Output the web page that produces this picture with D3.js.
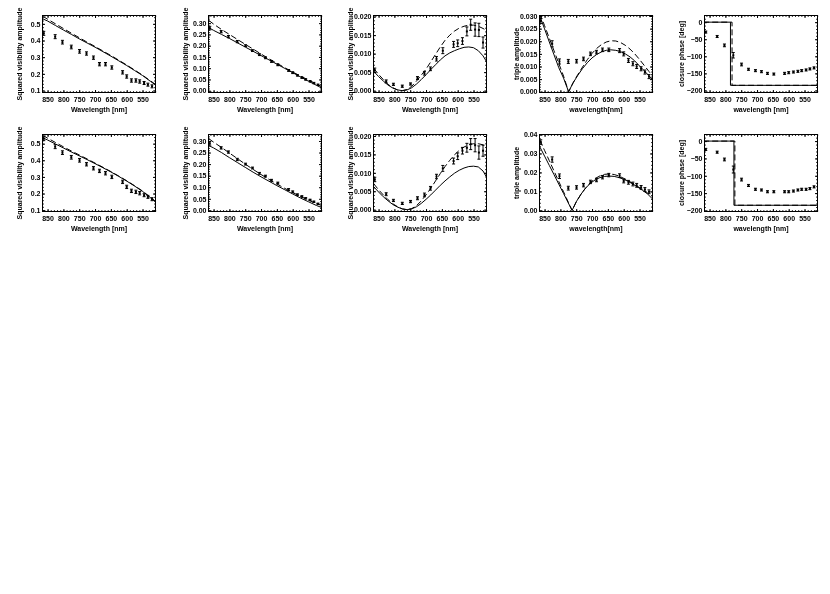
<!DOCTYPE html>
<html>
<head>
<meta charset="utf-8">
<script src="https://d3js.org/d3.v7.min.js"></script>
<style>
body{margin:0;background:#fff;}
svg{will-change:transform;}
svg text{font-family:"Liberation Sans",Arial,sans-serif;font-size:7px;font-weight:bold;fill:#000;}
</style>
</head>
<body>
<div id="my-draw"></div>
<script>

// spectral channels of the observations (nm)
var chanWl=[862,826,803,775,749,727,705,686,667,647,613,600,585,571,559,545,533,520];

// wavelength grids of the model curves
var gridA=[865,850,825,800,775,750,725,700,675,650,625,600,575,550,525,510];
var gridP3=[865,850,835,820,805,790,775,760,745,730,715,700,685,670,655,640,625,610,595,580,565,550,535,520,510];
var gridP4a=[865,850,835,820,805,790,774,760,745,730,715,700,685,670,655,640,625,610,595,580,565,550,535,520,510];
var gridP4b=[865,850,835,820,805,790,775,763,750,735,720,705,690,675,660,645,630,615,600,585,570,555,540,525,510];

// closure phase model steps
var stepWlSolid1=[870,784,784,505], stepWlDash1=[870,779,779,505];
var stepWlSolid2=[870,773,773,505], stepWlDash2=[870,770,770,505];
var stepPhase=[0,0,-185,-185];

// axis ticks
var xTickVals=[850,800,750,700,650,600,550];
var yTicksP1=[0.1,0.2,0.3,0.4,0.5], yLabelsP1=["0.1","0.2","0.3","0.4","0.5"];
var yTicksP2=[0,0.05,0.10,0.15,0.20,0.25,0.30], yLabelsP2=["0.00","0.05","0.10","0.15","0.20","0.25","0.30"];
var yTicksP3=[0,0.005,0.010,0.015,0.020], yLabelsP3=["0.000","0.005","0.010","0.015","0.020"];
var yTicksP4a=[0,0.005,0.010,0.015,0.020,0.025,0.030], yLabelsP4a=["0.000","0.005","0.010","0.015","0.020","0.025","0.030"];
var yTicksP4b=[0,0.01,0.02,0.03,0.04], yLabelsP4b=["0.00","0.01","0.02","0.03","0.04"];
var yTicksP5=[-200,-150,-100,-50,0], yLabelsP5=["\u2212200","\u2212150","\u2212100","\u221250","0"];

// row 1 -- squared visibility, baseline 1
var v2aSolid1=[0.53,0.517,0.49,0.463,0.437,0.41,0.385,0.36,0.333,0.306,0.278,0.25,0.22,0.19,0.155,0.135];
var v2aDash1=[0.545,0.528,0.5,0.472,0.444,0.417,0.39,0.364,0.337,0.31,0.282,0.253,0.223,0.192,0.158,0.138];
var v2aObs1=[0.443,0.423,0.39,0.361,0.335,0.322,0.297,0.258,0.258,0.238,0.209,0.184,0.16,0.16,0.154,0.145,0.135,0.125];
var v2aErr1=[0.012,0.012,0.011,0.011,0.011,0.01,0.01,0.01,0.01,0.01,0.01,0.01,0.01,0.01,0.01,0.009,0.009,0.009];
// row 1 -- squared visibility, baseline 2
var v2bSolid1=[0.28,0.268,0.25,0.232,0.213,0.194,0.175,0.156,0.137,0.118,0.099,0.08,0.061,0.042,0.024,0.013];
var v2bDash1=[0.312,0.296,0.272,0.25,0.228,0.206,0.185,0.163,0.142,0.122,0.102,0.083,0.065,0.047,0.03,0.02];
var v2bObs1=[0.278,0.262,0.24,0.218,0.2,0.178,0.16,0.146,0.13,0.115,0.09,0.08,0.068,0.058,0.05,0.042,0.034,0.026];
var v2bErr1=[0.008,0.005,0.005,0.005,0.004,0.004,0.004,0.004,0.004,0.004,0.004,0.004,0.003,0.003,0.003,0.003,0.003,0.003];
// row 1 -- squared visibility, baseline 3
var v2cSolid1=[0.0052,0.0038,0.0026,0.0015,0.0007,0.0002,0.0,0.0002,0.0008,0.0018,0.003,0.0043,0.0057,0.007,0.0083,0.0094,0.0102,0.0108,0.0113,0.0117,0.0118,0.0116,0.0108,0.0094,0.008];
var v2cDash1=[0.006,0.0044,0.003,0.0017,0.0008,0.0002,0.0,0.0003,0.0012,0.0026,0.0042,0.0058,0.0078,0.0098,0.0118,0.0136,0.015,0.0161,0.0169,0.0174,0.0177,0.0177,0.0174,0.0168,0.0163];
var v2cObs1=[0.0055,0.0025,0.0017,0.0012,0.0018,0.0034,0.0047,0.0059,0.0086,0.0108,0.0125,0.0128,0.0134,0.016,0.0178,0.0165,0.0164,0.013];
var v2cErr1=[0.0006,0.0004,0.0003,0.0003,0.0003,0.0004,0.0005,0.0005,0.0006,0.0008,0.0008,0.0009,0.0009,0.0012,0.0015,0.0018,0.0018,0.0015];
// row 1 -- triple amplitude
var t3Solid1=[0.03,0.0249,0.0197,0.0146,0.0095,0.0054,0.0,0.0035,0.0065,0.0092,0.0115,0.0134,0.0148,0.0158,0.0164,0.0166,0.0164,0.0159,0.015,0.0138,0.0122,0.0102,0.0083,0.0063,0.005];
var t3Dash1=[0.031,0.0262,0.0212,0.0162,0.0112,0.0062,0.0,0.0035,0.0068,0.0098,0.0127,0.0152,0.0172,0.0187,0.0197,0.0202,0.0201,0.0195,0.0184,0.0169,0.015,0.0128,0.0104,0.008,0.0064];
var t3Obs1=[0.028,0.019,0.012,0.012,0.0121,0.013,0.015,0.0157,0.0166,0.0166,0.0163,0.015,0.0124,0.0111,0.01,0.0091,0.0078,0.006];
var t3Err1=[0.001,0.0012,0.001,0.0008,0.0007,0.0007,0.0007,0.0007,0.0007,0.0007,0.0008,0.0008,0.0008,0.0008,0.0008,0.0008,0.0008,0.0008];
// row 1 -- closure phase
var cpObs1=[-29,-42,-68,-97,-124,-138,-142,-145,-150,-152,-150,-148,-146,-144,-142,-140,-137,-134];
var cpErr1=[3,3,4,8,4,3,3,3,3,3,3,3,3,3,3,3,3,3];

// row 2 -- squared visibility, baseline 1
var v2aSolid2=[0.535,0.522,0.498,0.474,0.45,0.427,0.404,0.38,0.355,0.33,0.303,0.275,0.245,0.213,0.175,0.15];
var v2aDash2=[0.55,0.533,0.507,0.481,0.456,0.432,0.408,0.383,0.358,0.332,0.305,0.277,0.247,0.215,0.178,0.155];
var v2aObs2=[0.53,0.482,0.446,0.418,0.4,0.376,0.352,0.336,0.322,0.3,0.27,0.24,0.216,0.21,0.202,0.19,0.18,0.166];
var v2aErr2=[0.012,0.012,0.011,0.011,0.011,0.01,0.01,0.01,0.01,0.01,0.01,0.01,0.01,0.01,0.01,0.009,0.009,0.009];
// row 2 -- squared visibility, baseline 2
var v2bSolid2=[0.28,0.27,0.25,0.228,0.207,0.186,0.165,0.145,0.126,0.107,0.089,0.071,0.053,0.037,0.021,0.013];
var v2bDash2=[0.31,0.295,0.272,0.248,0.224,0.2,0.177,0.155,0.134,0.114,0.095,0.077,0.06,0.044,0.029,0.022];
var v2bObs2=[0.29,0.27,0.252,0.22,0.2,0.183,0.16,0.148,0.13,0.118,0.09,0.08,0.068,0.06,0.052,0.045,0.037,0.028];
var v2bErr2=[0.008,0.005,0.005,0.005,0.004,0.004,0.004,0.004,0.004,0.004,0.004,0.004,0.003,0.003,0.003,0.003,0.003,0.003];
// row 2 -- squared visibility, baseline 3
var v2cSolid2=[0.0062,0.0048,0.0035,0.0024,0.0014,0.0007,0.0002,0.0,0.0002,0.0008,0.0017,0.0028,0.004,0.0053,0.0066,0.0078,0.0089,0.0099,0.0107,0.0113,0.0117,0.0118,0.0116,0.0105,0.009];
var v2cDash2=[0.007,0.0054,0.004,0.0027,0.0016,0.0008,0.0002,0.0,0.0003,0.0011,0.0024,0.004,0.0058,0.0078,0.0098,0.0117,0.0134,0.0149,0.0161,0.017,0.0176,0.0179,0.0179,0.0176,0.0172];
var v2cObs2=[0.0082,0.0042,0.0025,0.0017,0.0022,0.0031,0.004,0.0058,0.009,0.0112,0.0132,0.0145,0.016,0.0168,0.0178,0.0175,0.0155,0.016];
var v2cErr2=[0.0006,0.0004,0.0003,0.0003,0.0003,0.0004,0.0005,0.0005,0.0006,0.0008,0.0008,0.0009,0.0009,0.0012,0.0015,0.0018,0.0018,0.0015];
// row 2 -- triple amplitude
var t3Solid2=[0.0335,0.0286,0.0237,0.0188,0.0138,0.0089,0.0039,0.0,0.0045,0.0085,0.0118,0.0143,0.0161,0.0173,0.0179,0.0181,0.0179,0.0173,0.0164,0.0152,0.0138,0.0122,0.0105,0.0087,0.0062];
var t3Dash2=[0.037,0.0316,0.0262,0.0207,0.0152,0.0098,0.0043,0.0,0.0044,0.0085,0.0119,0.0147,0.0168,0.0182,0.019,0.0192,0.0189,0.0181,0.0169,0.0156,0.0141,0.0125,0.0109,0.0092,0.0074];
var t3Obs2=[0.036,0.0268,0.018,0.0117,0.0121,0.0133,0.015,0.016,0.0175,0.0186,0.0183,0.0155,0.0148,0.0139,0.0132,0.0121,0.011,0.0098];
var t3Err2=[0.0012,0.0014,0.0012,0.001,0.0009,0.0009,0.0009,0.0009,0.0009,0.0009,0.001,0.001,0.001,0.001,0.001,0.001,0.001,0.001];
// row 2 -- closure phase
var cpObs2=[-24,-32,-53,-82,-111,-128,-139,-141,-146,-146,-146,-146,-144,-141,-139,-139,-137,-132];
var cpErr2=[3,3,4,10,4,3,3,3,3,3,3,3,3,3,3,3,3,3];

var width=830, height=594;
var cellW=165.5, rowH=118.5;
var margin={left:42,top:15};
var drawWidth=113, drawHeight=77;
var xDomain=[866,509];

var titleV2="Squared visibility amplitude";

var panels=[
 {row:0,col:0,yDomain:[0.088,0.55],ticks:yTicksP1,labels:yLabelsP1,minor:0.02,ytitle:titleV2,xtitle:"Wavelength [nm]",
  solidWl:gridA,solid:v2aSolid1,dashWl:gridA,dash:v2aDash1,obs:v2aObs1,err:v2aErr1},
 {row:0,col:1,yDomain:[-0.008,0.334],ticks:yTicksP2,labels:yLabelsP2,minor:0.01,ytitle:titleV2,xtitle:"Wavelength [nm]",
  solidWl:gridA,solid:v2bSolid1,dashWl:gridA,dash:v2bDash1,obs:v2bObs1,err:v2bErr1},
 {row:0,col:2,yDomain:[-0.0005,0.0203],ticks:yTicksP3,labels:yLabelsP3,minor:0.001,ytitle:titleV2,xtitle:"Wavelength [nm]",
  solidWl:gridP3,solid:v2cSolid1,dashWl:gridP3,dash:v2cDash1,obs:v2cObs1,err:v2cErr1},
 {row:0,col:3,yDomain:[-0.0003,0.0302],ticks:yTicksP4a,labels:yLabelsP4a,minor:0.001,ytitle:"triple amplitude",xtitle:"wavelength[nm]",
  solidWl:gridP4a,solid:t3Solid1,dashWl:gridP4a,dash:t3Dash1,obs:t3Obs1,err:t3Err1},
 {row:0,col:4,yDomain:[-206,19.5],ticks:yTicksP5,labels:yLabelsP5,minor:10,ytitle:"closure phase [deg]",xtitle:"wavelength [nm]",
  solidWl:stepWlSolid1,solid:stepPhase,dashWl:stepWlDash1,dash:stepPhase,obs:cpObs1,err:cpErr1},
 {row:1,col:0,yDomain:[0.092,0.555],ticks:yTicksP1,labels:yLabelsP1,minor:0.02,ytitle:titleV2,xtitle:"Wavelength [nm]",
  solidWl:gridA,solid:v2aSolid2,dashWl:gridA,dash:v2aDash2,obs:v2aObs2,err:v2aErr2},
 {row:1,col:1,yDomain:[-0.005,0.328],ticks:yTicksP2,labels:yLabelsP2,minor:0.01,ytitle:titleV2,xtitle:"Wavelength [nm]",
  solidWl:gridA,solid:v2bSolid2,dashWl:gridA,dash:v2bDash2,obs:v2bObs2,err:v2bErr2},
 {row:1,col:2,yDomain:[-0.0005,0.0204],ticks:yTicksP3,labels:yLabelsP3,minor:0.001,ytitle:titleV2,xtitle:"Wavelength [nm]",
  solidWl:gridP3,solid:v2cSolid2,dashWl:gridP3,dash:v2cDash2,obs:v2cObs2,err:v2cErr2},
 {row:1,col:3,yDomain:[-0.0006,0.040],ticks:yTicksP4b,labels:yLabelsP4b,minor:0.002,ytitle:"triple amplitude",xtitle:"wavelength[nm]",
  solidWl:gridP4b,solid:t3Solid2,dashWl:gridP4b,dash:t3Dash2,obs:t3Obs2,err:t3Err2},
 {row:1,col:4,yDomain:[-203,19],ticks:yTicksP5,labels:yLabelsP5,minor:10,ytitle:"closure phase [deg]",xtitle:"wavelength [nm]",
  solidWl:stepWlSolid2,solid:stepPhase,dashWl:stepWlDash2,dash:stepPhase,obs:cpObs2,err:cpErr2}
];

var svg=d3.select("#my-draw")
          .append("svg")
          .attr("width",width)
          .attr("height",height);

svg.append("rect").attr("width",width).attr("height",height).attr("fill","#fff");

function minorTicks(domain,step){
  var lo=Math.min(domain[0],domain[1]), hi=Math.max(domain[0],domain[1]);
  return d3.range(Math.ceil(lo/step-1e-6),Math.floor(hi/step+1e-6)+1).map(function(k){return +(k*step).toFixed(6);});
}

panels.forEach(function(p,i){

  var gx=Math.round(p.col*cellW+margin.left)+0.5;
  var gy=Math.round(p.row*rowH+margin.top)+0.5;

  var canvas=svg.append("g")
                .attr("transform","translate("+gx+","+gy+")");

  var x=d3.scaleLinear().domain(xDomain).range([0,drawWidth]);
  var y=d3.scaleLinear().domain(p.yDomain).range([drawHeight,0]);

  canvas.append("clipPath").attr("id","clip"+i)
        .append("rect").attr("width",drawWidth).attr("height",drawHeight);

  var plot=canvas.append("g").attr("clip-path","url(#clip"+i+")");

  var line=d3.line()
             .x(function(d){return x(d[0]);})
             .y(function(d){return y(d[1]);});

  // model curves
  plot.append("path")
      .datum(d3.zip(p.solidWl,p.solid))
      .attr("fill","none")
      .attr("stroke","#000")
      .attr("stroke-width",1)
      .attr("d",line);

  plot.append("path")
      .datum(d3.zip(p.dashWl,p.dash))
      .attr("fill","none")
      .attr("stroke","#000")
      .attr("stroke-width",1)
      .attr("stroke-dasharray","6,3")
      .attr("d",line);

  // observations with error bars
  var pts=d3.zip(chanWl,p.obs,p.err);
  var bars=plot.append("g").selectAll("g")
      .data(pts).enter().append("g")
      .attr("stroke","#000")
      .attr("stroke-width",1);

  bars.append("line")
      .attr("x1",function(d){return x(d[0]);})
      .attr("x2",function(d){return x(d[0]);})
      .attr("y1",function(d){return y(d[1]-d[2]);})
      .attr("y2",function(d){return y(d[1]+d[2]);});
  bars.append("line")
      .attr("x1",function(d){return x(d[0])-1.5;})
      .attr("x2",function(d){return x(d[0])+1.5;})
      .attr("y1",function(d){return y(d[1]-d[2]);})
      .attr("y2",function(d){return y(d[1]-d[2]);});
  bars.append("line")
      .attr("x1",function(d){return x(d[0])-1.5;})
      .attr("x2",function(d){return x(d[0])+1.5;})
      .attr("y1",function(d){return y(d[1]+d[2]);})
      .attr("y2",function(d){return y(d[1]+d[2]);});
  bars.append("rect")
      .attr("x",function(d){return x(d[0])-1;})
      .attr("y",function(d){return y(d[1])-1;})
      .attr("width",2)
      .attr("height",2)
      .attr("stroke","none")
      .attr("fill","#000");

  // axes, ticks on all four sides pointing in
  var xMinor=minorTicks(xDomain,10);
  var yMinor=minorTicks(p.yDomain,p.minor);
  var fmt=function(d,k){return p.labels[k];};

  canvas.append("g").attr("transform","translate(0,"+drawHeight+")")
        .call(d3.axisBottom(x).tickValues(xTickVals).tickSize(-2.5).tickPadding(5).tickFormat(d3.format("d")));
  canvas.append("g").attr("transform","translate(0,"+drawHeight+")")
        .call(d3.axisBottom(x).tickValues(xMinor).tickSize(-1.3).tickFormat(""));
  canvas.append("g")
        .call(d3.axisTop(x).tickValues(xTickVals).tickSize(-2.5).tickFormat(""));
  canvas.append("g")
        .call(d3.axisTop(x).tickValues(xMinor).tickSize(-1.3).tickFormat(""));

  canvas.append("g")
        .call(d3.axisLeft(y).tickValues(p.ticks).tickSize(-2.5).tickPadding(2).tickFormat(fmt));
  canvas.append("g")
        .call(d3.axisLeft(y).tickValues(yMinor).tickSize(-1.3).tickFormat(""));
  canvas.append("g").attr("transform","translate("+drawWidth+",0)")
        .call(d3.axisRight(y).tickValues(p.ticks).tickSize(-2.5).tickFormat(""));
  canvas.append("g").attr("transform","translate("+drawWidth+",0)")
        .call(d3.axisRight(y).tickValues(yMinor).tickSize(-1.3).tickFormat(""));

  canvas.selectAll(".domain").remove();

  // frame
  canvas.append("rect")
        .attr("width",drawWidth)
        .attr("height",drawHeight)
        .attr("fill","none")
        .attr("stroke","#000")
        .attr("stroke-width",1);

  // axis titles
  canvas.append("text")
        .attr("text-anchor","middle")
        .attr("x",drawWidth/2)
        .attr("y",drawHeight+19)
        .text(p.xtitle);

  canvas.append("text")
        .attr("text-anchor","middle")
        .attr("transform","rotate(-90)")
        .attr("x",-drawHeight/2)
        .attr("y",-21)
        .text(p.ytitle);
});

</script>
</body>
</html>
